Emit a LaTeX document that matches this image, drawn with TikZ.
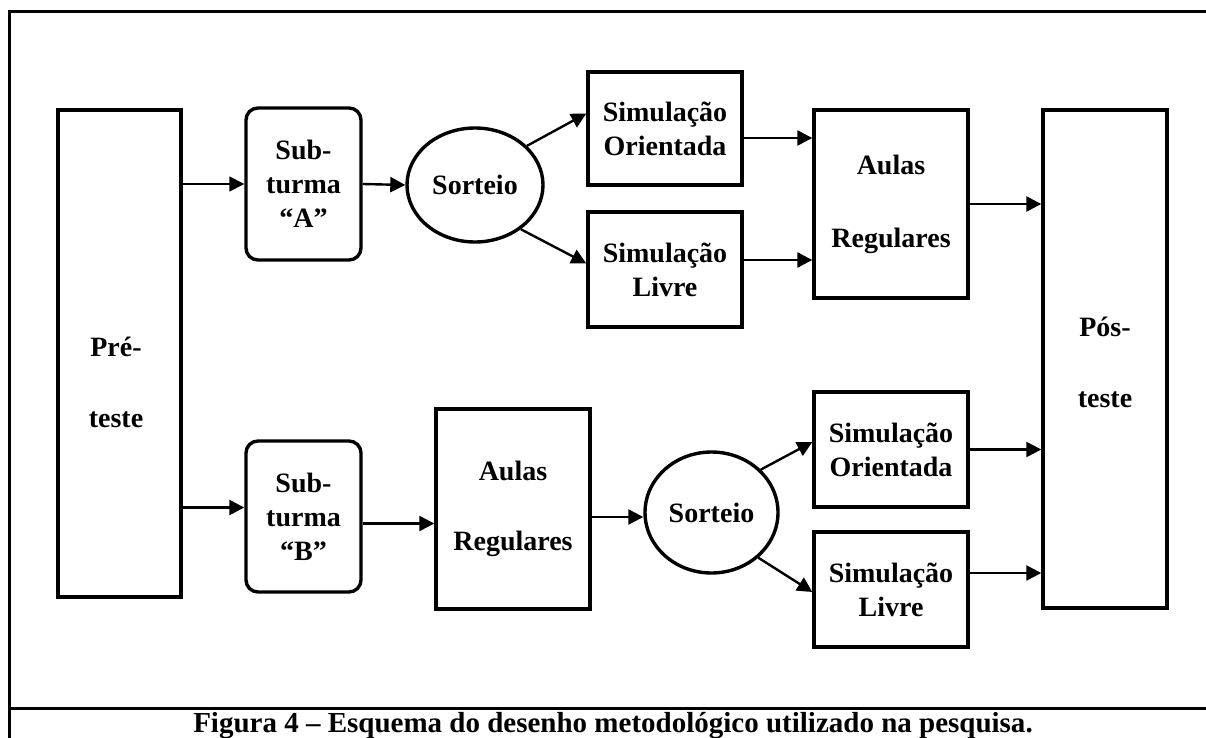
\documentclass[tikz,border=0pt]{standalone}
\usepackage{fontspec}
\setmainfont{Liberation Serif}
\usetikzlibrary{arrows.meta,shapes.geometric}
\begin{document}
\begin{tikzpicture}[x=1pt,y=-1pt,
  box/.style={draw, line width=3.4pt, inner sep=0pt, align=center,
    font=\bfseries\fontsize{28}{34}\selectfont},
  rbox/.style={box, rounded corners=12pt},
  oval/.style={draw, ellipse, line width=3.4pt, inner sep=0pt,
    font=\bfseries\fontsize{28}{34}\selectfont},
  wide/.style={align=center, inner sep=0pt, font=\bfseries\fontsize{28}{71}\selectfont},
  arr/.style={-{Triangle[length=15pt,width=15pt]}, line width=2.4pt},
  frame/.style={line width=3pt}
]
\useasboundingbox (0,0) rectangle (1206,738);
\fill[white] (0,0) rectangle (1206,738);
% frame
\coordinate (fbl) at (9,738);
\coordinate (ftl) at (9,12);
\coordinate (ftr) at (1208,12);
\coordinate (fsl) at (9,708);
\coordinate (fsr) at (1208,708);
\draw[frame] (fbl) -- (ftl) -- (ftr);
\draw[frame] (fsl) -- (fsr);

% nodes
\node[box, minimum width=123pt, minimum height=487pt] (pre) at (119.5,353.5) {};
\node[wide] (preT) at (116,382) {Pré-\\teste};
\node[box, minimum width=124pt, minimum height=498pt] (pos) at (1105,359) {};
\node[wide] (posT) at (1105,362) {Pós-\\teste};

\node[rbox, minimum width=115pt, minimum height=152pt] (subA) at (303.5,184) {Sub-\\turma\\“A”};
\node[rbox, minimum width=115pt, minimum height=151pt] (subB) at (303.5,516.5) {Sub-\\turma\\“B”};

\node[oval, minimum width=136pt, minimum height=114pt] (sortA) at (475,185) {Sorteio};
\node[oval, minimum width=133pt, minimum height=121pt] (sortB) at (711.5,512.5) {Sorteio};

\node[box, minimum width=154pt, minimum height=113pt] (simOA) at (665,128.5) {Simulação\\Orientada};
\node[box, minimum width=154pt, minimum height=115pt] (simLA) at (665,269.5) {Simulação\\Livre};
\node[box, minimum width=154pt, minimum height=115pt] (simOB) at (891,449.5) {Simulação\\Orientada};
\node[box, minimum width=154pt, minimum height=115pt] (simLB) at (891,589.5) {Simulação\\Livre};

\node[box, minimum width=154pt, minimum height=188pt, font=\bfseries\fontsize{28}{73}\selectfont] (aulasA) at (891,204) {Aulas\\Regulares};
\node[box, minimum width=154pt, minimum height=200pt, font=\bfseries\fontsize{28}{70}\selectfont] (aulasB) at (513,509) {Aulas\\Regulares};

% connectors
\draw[arr, line width=1.7pt] (subA.west -| pre.east) -- (subA.west);
\draw[arr] ([yshift=9pt]subB.west -| pre.east) -- ([yshift=9pt]subB.west);
\draw[arr] (subA.east) -- (sortA.west);
\draw[arr] ([yshift=-7pt]subB.east) -- ([yshift=-7pt]subB.east -| aulasB.west);
\draw[arr] ([yshift=-8pt]aulasB.east) -- ([yshift=-4.5pt]sortB.west);
\draw[arr] (sortA.37) -- ([yshift=15pt]simOA.west);
\draw[arr] (sortA.-44) -- ([yshift=6pt]simLA.west);
\draw[arr] ([yshift=-9.5pt]simOA.east) -- ([yshift=-9.5pt]simOA.east -| aulasA.west);
\draw[arr] ([yshift=9.5pt]simLA.east) -- ([yshift=9.5pt]simLA.east -| aulasA.west);
\draw[arr] (aulasA.east) -- (aulasA.east -| pos.west);
\draw[arr] (sortB.41) -- ([yshift=7.5pt]simOB.west);
\draw[arr] (sortB.-44) -- ([yshift=-2.5pt]simLB.west);
\draw[arr] (simOB.east) -- (simOB.east -| pos.west);
\draw[arr] ([yshift=16.5pt]simLB.east) -- ([yshift=16.5pt]simLB.east -| pos.west);

% caption
\node[anchor=base, inner sep=0pt, font=\bfseries\fontsize{29}{35}\selectfont] (cap) at (613,732) {Figura 4 – Esquema do desenho metodológico utilizado na pesquisa.};
\end{tikzpicture}
\end{document}
